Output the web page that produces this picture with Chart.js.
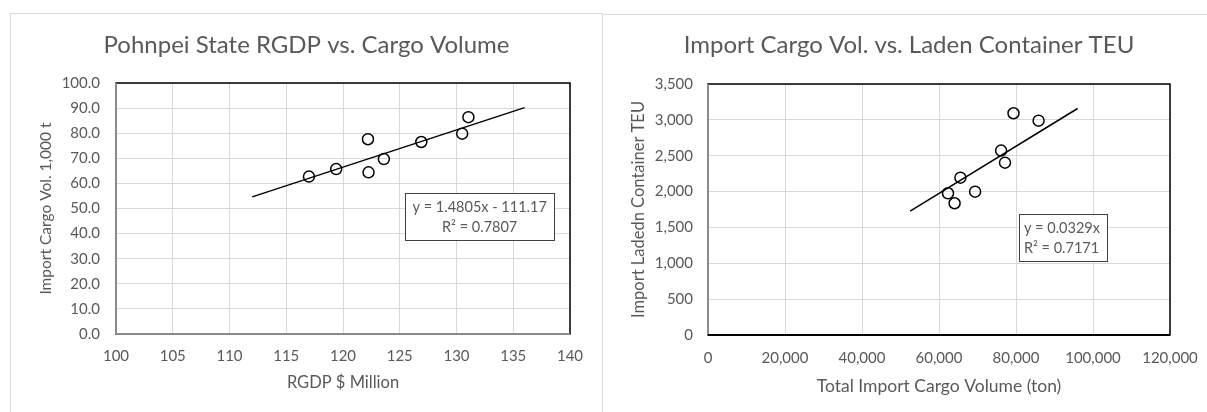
<!DOCTYPE html>
<html>
<head>
<meta charset="utf-8">
<script src="https://cdn.jsdelivr.net/npm/chart.js@4.4.1/dist/chart.umd.min.js"></script>
<style>
  body { margin: 0; background: #fff; overflow: hidden; width: 1207px; height: 412px; }
  .panel { position: absolute; border: 1px solid #d9d9d9; box-sizing: border-box; background: transparent; }
  canvas { position: absolute; }
</style>
</head>
<body>
<div class="panel" style="left:10px;top:13px;width:593px;height:420px;"></div>
<div class="panel" style="left:602px;top:14px;width:620px;height:420px;"></div>
<canvas id="rgdpChart" width="593" height="399" style="left:10px;top:13px;"></canvas>
<canvas id="teuChart" width="612" height="398" style="left:603px;top:14px;"></canvas>

<script>
// Pohnpei RGDP ($ million) vs import cargo (1,000 t)
const rgdp = [117.0, 119.4, 122.2, 122.25, 123.6, 126.9, 130.5, 131.05];
const cargoK = [62.7, 65.7, 77.6, 64.4, 69.7, 76.5, 79.8, 86.4];
const rgdpSlope = 1.4805;
const rgdpIntercept = -111.17;
const rgdpR2 = '0.7807';
const rgdpTrendRange = [112, 136];

// Import cargo (ton) vs laden container TEU
const cargoTon = [79350, 85870, 76130, 77140, 65560, 69380, 62340, 64050];
const ladenTeu = [3092, 2989, 2571, 2403, 2194, 1999, 1976, 1837];
const teuSlope = 0.0329;
const teuR2 = '0.7171';
const teuTrendRange = [52500, 96000];

const textColor = '#595959';
const gridColor = '#d9d9d9';
const fontFamily = 'Lato, "Open Sans", sans-serif';
const titleSize = 24;
const tickSize = 15;

// black plot frame with coloured axis lines, plus the trendline label box
const framePlugin = {
    id: 'plotFrame',
    afterDatasetsDraw(chart, args, opts) {
        const { ctx, chartArea: a } = chart;
        ctx.save();
        ctx.strokeStyle = '#000';
        ctx.lineWidth = 1.5;
        ctx.strokeRect(a.left, a.top, a.right - a.left, a.bottom - a.top);
        ctx.strokeStyle = opts.leftColor;
        ctx.beginPath();
        ctx.moveTo(a.left, a.top);
        ctx.lineTo(a.left, a.bottom);
        ctx.stroke();
        ctx.strokeStyle = opts.bottomColor;
        ctx.lineWidth = opts.bottomWidth;
        ctx.beginPath();
        ctx.moveTo(a.left, a.bottom);
        ctx.lineTo(a.right, a.bottom);
        ctx.stroke();

        // equation box
        const w = a.right - a.left, h = a.bottom - a.top;
        const [fl, ft, fr, fb] = opts.box;
        const bx = a.left + fl * w, by = a.top + ft * h;
        const bw = (fr - fl) * w, bh = (fb - ft) * h;
        ctx.fillStyle = '#fff';
        ctx.fillRect(bx, by, bw, bh);
        ctx.strokeStyle = '#404040';
        ctx.lineWidth = 1;
        ctx.strokeRect(Math.round(bx) + 0.5, Math.round(by) + 0.5, Math.round(bw), Math.round(bh));
        ctx.fillStyle = textColor;
        ctx.font = `14.5px ${fontFamily}`;
        ctx.textBaseline = 'middle';
        ctx.textAlign = opts.align;
        const tx = opts.align === 'center' ? bx + bw / 2 : bx + 5;
        opts.lines.forEach((line, i) => {
            ctx.fillText(line, tx, by + bh * (0.3 + 0.44 * i));
        });
        ctx.restore();
    }
};

function makeChart(canvasId, cfg) {
    const ctx = document.getElementById(canvasId).getContext('2d');
    const points = cfg.xs.map((x, i) => ({ x: x, y: cfg.ys[i] }));
    const trend = cfg.trendRange.map(x => ({ x: x, y: cfg.trendFn(x) }));
    const titleLine = titleSize * 1.2;
    const xTitleHalf = cfg.xTitleSize * 0.6;
    const yTitleHalf = cfg.yTitleSize * 0.6;

    return new Chart(ctx, {
        type: 'scatter',
        data: {
            datasets: [{
                data: points,
                pointRadius: 5.5,
                pointBorderWidth: 1.5,
                pointBorderColor: '#000',
                pointBackgroundColor: 'rgba(0,0,0,0)',
                order: 1
            }, {
                data: trend,
                showLine: true,
                borderColor: '#000',
                borderWidth: 1.5,
                pointRadius: 0,
                order: 2
            }]
        },
        options: {
            responsive: false,
            animation: false,
            devicePixelRatio: 1,
            layout: { padding: 0 },
            plugins: {
                legend: { display: false },
                tooltip: { enabled: false },
                title: {
                    display: true,
                    text: cfg.title,
                    color: textColor,
                    font: { family: fontFamily, size: titleSize, weight: 'normal', lineHeight: 1.2 },
                    padding: { top: cfg.titleCenter - titleLine / 2, bottom: 70 - cfg.titleCenter - titleLine / 2 }
                },
                plotFrame: cfg.frame
            },
            scales: {
                x: {
                    type: 'linear',
                    min: cfg.xMin, max: cfg.xMax,
                    afterFit: s => { s.height = cfg.xHeight; },
                    grid: { color: gridColor, drawTicks: false, lineWidth: 1 },
                    border: { display: false },
                    ticks: {
                        stepSize: cfg.xStep,
                        padding: cfg.xTickPad,
                        color: textColor,
                        font: { family: fontFamily, size: tickSize },
                        callback: cfg.xFormat
                    },
                    title: {
                        display: true,
                        text: cfg.xTitle,
                        color: textColor,
                        font: { family: fontFamily, size: cfg.xTitleSize },
                        padding: { top: 0, bottom: cfg.xTitleCenter - xTitleHalf }
                    }
                },
                y: {
                    min: cfg.yMin, max: cfg.yMax,
                    afterFit: s => { s.width = cfg.yWidth; },
                    grid: { color: gridColor, drawTicks: false, lineWidth: 1 },
                    border: { display: false },
                    ticks: {
                        stepSize: cfg.yStep,
                        padding: cfg.yTickPad,
                        color: textColor,
                        font: { family: fontFamily, size: tickSize },
                        callback: cfg.yFormat
                    },
                    title: {
                        display: true,
                        text: cfg.yTitle,
                        color: textColor,
                        font: { family: fontFamily, size: cfg.yTitleSize },
                        padding: { top: 36 - yTitleHalf, bottom: 0 }
                    }
                },
                // empty right-hand axis, only reserves the margin right of the plot
                gap: {
                    type: 'linear',
                    position: 'right',
                    afterFit: s => { s.width = cfg.padRight; },
                    grid: { display: false },
                    border: { display: false },
                    ticks: { display: false }
                }
            }
        },
        plugins: [framePlugin]
    });
}

const commas = v => v.toLocaleString('en-US');

makeChart('rgdpChart', {
    title: 'Pohnpei State RGDP vs. Cargo Volume',
    xs: rgdp, ys: cargoK,
    trendRange: rgdpTrendRange,
    trendFn: x => rgdpSlope * x + rgdpIntercept,
    xMin: 100, xMax: 140, xStep: 5,
    yMin: 0, yMax: 100, yStep: 10,
    xFormat: v => v,
    yFormat: v => v.toFixed(1),
    xTitle: 'RGDP $ Million',
    yTitle: 'Import Cargo Vol. 1,000 t',
    padRight: 33, titleCenter: 32,
    xHeight: 78, yWidth: 106,
    xTickPad: 13, yTickPad: 16,
    xTitleSize: 16.5, xTitleCenter: 29,
    yTitleSize: 15.5,
    frame: {
        leftColor: '#a6a6a6', bottomColor: '#a6a6a6', bottomWidth: 1.5,
        box: [0.637, 0.438, 0.965, 0.625],
        align: 'center',
        lines: [`y = ${rgdpSlope}x - ${Math.abs(rgdpIntercept)}`, `R² = ${rgdpR2}`]
    }
});

makeChart('teuChart', {
    title: 'Import Cargo Vol. vs. Laden Container TEU',
    xs: cargoTon, ys: ladenTeu,
    trendRange: teuTrendRange,
    trendFn: x => teuSlope * x,
    xMin: 0, xMax: 120000, xStep: 20000,
    yMin: 0, yMax: 3500, yStep: 500,
    xFormat: commas,
    yFormat: commas,
    xTitle: 'Total Import Cargo Volume (ton)',
    yTitle: 'Import Ladedn Container TEU',
    padRight: 45, titleCenter: 31,
    xHeight: 77, yWidth: 105,
    xTickPad: 14, yTickPad: 15,
    xTitleSize: 17.5, xTitleCenter: 26,
    yTitleSize: 16.5,
    frame: {
        leftColor: '#a6a6a6', bottomColor: '#000', bottomWidth: 2,
        box: [0.673, 0.518, 0.864, 0.705],
        align: 'left',
        lines: [`y = ${teuSlope}x`, `R² = ${teuR2}`]
    }
});
</script>
</body>
</html>
